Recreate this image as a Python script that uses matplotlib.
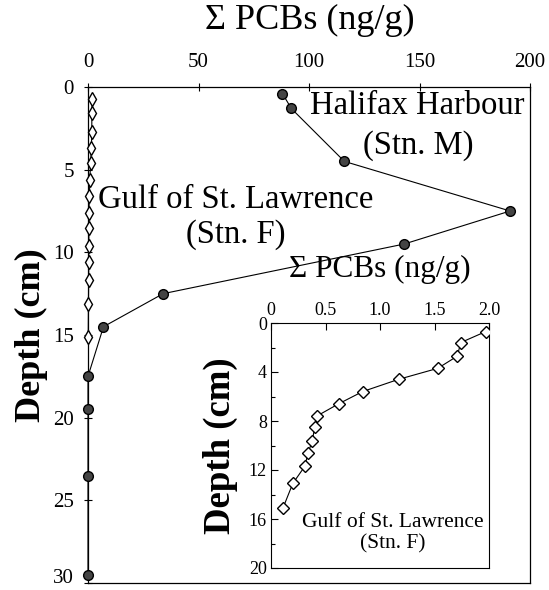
import matplotlib.pyplot as plt
from matplotlib.ticker import MultipleLocator

# Halifax Harbour (Stn. M)
halifax_pcb = [88, 92, 116, 191, 143, 34, 7, 0, 0, 0, 0]
halifax_depth = [0.4, 1.3, 4.5, 7.5, 9.5, 12.5, 14.5, 17.5, 19.5, 23.5, 29.5]

# Gulf of St. Lawrence (Stn. F)
gulf_pcb = [1.97, 1.74, 1.71, 1.53, 1.17, 0.84, 0.62, 0.42, 0.40, 0.38, 0.34, 0.31, 0.20, 0.11]
gulf_depth = [0.7, 1.6, 2.7, 3.7, 4.6, 5.6, 6.6, 7.6, 8.5, 9.6, 10.6, 11.7, 13.1, 15.1]

main_xticks = [0, 50, 100, 150, 200]
main_yticks = [0, 5, 10, 15, 20, 25, 30]
inset_xticks = [0, 0.5, 1.0, 1.5, 2.0]
inset_xlabels = ['0', '0.5', '1.0', '1.5', '2.0']
inset_yticks = [0, 4, 8, 12, 16, 20]

plt.rcParams['font.family'] = ['Liberation Serif', 'DejaVu Serif']

fig = plt.figure(figsize=(5.49, 5.90), dpi=100)

# main plot
ax = fig.add_axes([88/549, 1-583/590, (530-88)/549, (583-87)/590])
ax.plot(halifax_pcb, halifax_depth, color='black', lw=0.8, marker='o', ms=7,
        mfc='#444444', mec='black', zorder=3, clip_on=False)
ax.plot(gulf_pcb, gulf_depth, color='black', lw=0.8, marker='d', ms=7.6,
        mfc='white', mec='black', mew=1.0, zorder=3, clip_on=False)
ax.set_xlim(0, 200)
ax.set_ylim(30, 0)
ax.xaxis.tick_top()
ax.set_xticks(main_xticks)
ax.set_yticks(main_yticks)
ax.tick_params(axis='both', direction='inout', length=6, width=0.8, labelsize=15)
ax.tick_params(axis='x', pad=8)
ax.tick_params(axis='y', pad=7)
# bottom label "30" sits on its tick so it stays inside the figure
ax.get_yticklabels()[-1].set_va('baseline')
for s in ax.spines.values():
    s.set_linewidth(0.9)
ax.set_ylabel('Depth (cm)', fontsize=26, fontweight='bold')
ax.yaxis.set_label_coords(-0.09, 0.5)

fig.text(310/549, 1-20/590, 'Σ PCBs (ng/g)', fontsize=26, ha='center', va='center')

ax.text(149, 1.15, 'Halifax Harbour', fontsize=23.5, ha='center', va='center')
ax.text(149.5, 3.57, '(Stn. M)', fontsize=23.5, ha='center', va='center')
ax.text(67, 6.84, 'Gulf of St. Lawrence', fontsize=23.5, ha='center', va='center')
ax.text(67, 8.95, '(Stn. F)', fontsize=23.5, ha='center', va='center')

# inset
ins = fig.add_axes([271/549, 1-568/590, (489-271)/549, (568-323)/590])
ins.plot(gulf_pcb, gulf_depth, color='black', lw=0.8, marker='D', ms=6.6,
         mfc='white', mec='black', mew=1.0, zorder=3)
ins.set_xlim(0, 2.0)
ins.set_ylim(20, 0)
ins.xaxis.tick_top()
ins.set_xticks(inset_xticks)
ins.set_xticklabels(inset_xlabels)
ins.set_yticks(inset_yticks)
ins.yaxis.set_minor_locator(MultipleLocator(2))
ins.tick_params(axis='both', which='major', direction='in', length=5, width=0.8,
                labelsize=13, pad=3)
ins.tick_params(axis='y', which='minor', direction='in', length=3, width=0.8)
ins.set_ylabel('Depth (cm)', fontsize=26.5, fontweight='bold')
ins.yaxis.set_label_coords(-0.15, 0.5)
ins.set_title('Σ PCBs (ng/g)', fontsize=22.5, pad=18)
ins.text(1.12, 16.3, 'Gulf of St. Lawrence', fontsize=15.5, ha='center', va='center')
ins.text(1.12, 18.0, '(Stn. F)', fontsize=15.5, ha='center', va='center')

fig.savefig('out.png', dpi=100)
